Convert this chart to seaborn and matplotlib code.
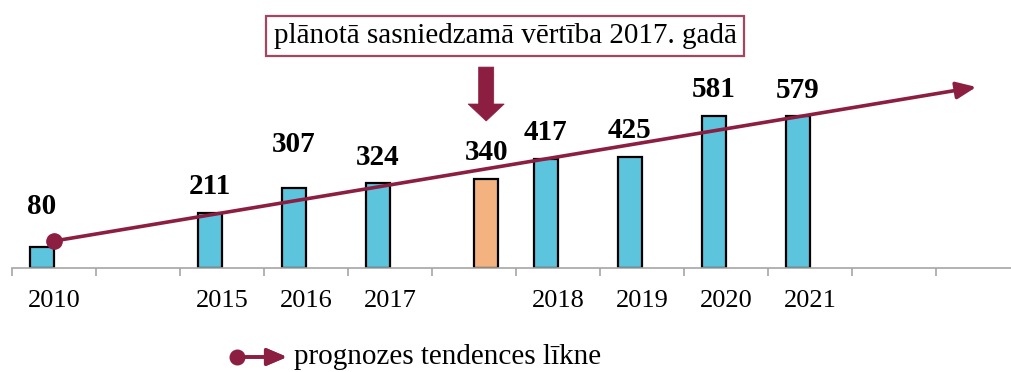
import matplotlib
matplotlib.use("Agg")
import matplotlib.pyplot as plt
from matplotlib.patches import Polygon
from matplotlib.lines import Line2D
import seaborn as sns
import pandas as pd

# --- data -------------------------------------------------------------
slot_keys = ["2010", "gap_a", "2015", "2016", "2017", "2017_plan",
             "2018", "2019", "2020", "2021", "gap_b", "gap_c"]
tick_labels = ["2010", "", "2015", "2016", "2017", "",
               "2018", "2019", "2020", "2021", "", ""]

fact_slots = ["2010", "2015", "2016", "2017", "2018", "2019", "2020", "2021"]
fact_values = [80, 211, 307, 324, 417, 425, 581, 579]

plan_slots = ["2017_plan"]
plan_values = [340]

# trend line: value at the 2010 slot and at the arrow tip
trend_values = [103, 691]

title_text = "plānotā sasniedzamā vērtība 2017. gadā"
legend_text = "prognozes tendences līkne"

# --- style ------------------------------------------------------------
BLUE = "#5DC4DE"
ORANGE = "#F4B281"
MAROON = "#8C1E41"
BOX_EDGE = "#A3465F"
AXIS_GREY = "#A6A6A6"

sns.set_theme(style="white")
plt.rcParams["font.family"] = ["Liberation Serif", "DejaVu Serif"]

W, H = 1012, 372
fig = plt.figure(figsize=(W / 100, H / 100), dpi=100)
ax = fig.add_axes([12 / W, 104 / H, 1008 / W, 268 / H])

df = pd.DataFrame({
    "slot": fact_slots + plan_slots,
    "value": fact_values + plan_values,
    "series": ["fakts"] * len(fact_slots) + ["plāns"] * len(plan_slots),
})

sns.barplot(data=df, x="slot", y="value", hue="series",
            order=slot_keys, hue_order=["fakts", "plāns"],
            palette={"fakts": BLUE, "plāns": ORANGE}, saturation=1,
            width=0.58, dodge=True, edgecolor="black", linewidth=1.6,
            legend=False, ax=ax)

ax.set_xlim(-0.5, len(slot_keys) - 0.5)
ax.set_ylim(0, 1023)
ax.set_xlabel("")
ax.set_ylabel("")
ax.set_yticks([])
for s in ("left", "top", "right"):
    ax.spines[s].set_visible(False)
ax.spines["bottom"].set_color(AXIS_GREY)
ax.spines["bottom"].set_linewidth(1.2)

# category labels centred in slots, tick marks on slot boundaries
ax.set_xticks(range(len(slot_keys)))
ax.set_xticklabels(tick_labels, fontsize=19, color="black")
ax.tick_params(axis="x", which="major", length=0, pad=16)
ax.set_xticks([i - 0.5 for i in range(len(slot_keys))], minor=True)
ax.tick_params(axis="x", which="minor", bottom=True, length=6, width=1.2,
               color=AXIS_GREY, direction="out")

# value labels above bars (a few lifted clear of the trend line)
lift_px = {"2010": 41, "2016": 43}
for bar in ax.patches:
    h = bar.get_height()
    if not h or h != h:
        continue
    cx = bar.get_x() + bar.get_width() / 2
    key = slot_keys[int(round(cx))]
    dy = lift_px.get(key, 26) * 0.72
    ax.annotate(f"{h:.0f}", (cx, h), xytext=(0, dy), textcoords="offset points",
                ha="center", va="center", fontsize=21, fontweight="bold",
                color="black")

ARROW = "-|>,head_length=0.75,head_width=0.32"

# trend line with arrow head
ax.annotate("", xy=(10.98, trend_values[1]), xytext=(0, trend_values[0]),
            arrowprops=dict(arrowstyle=ARROW, color=MAROON, lw=2.6,
                            shrinkA=0, shrinkB=0, mutation_scale=16),
            zorder=5)
ax.plot([0], [trend_values[0]], marker="o", markersize=11, color=MAROON,
        zorder=6, clip_on=False)

# block arrow pointing at the planned-value bar
px = 5 + 0.145
shaft = 0.09
head = 0.215
top_v, neck_v, tip_v = 767, 626, 561
arrow = Polygon([(px - shaft, top_v), (px + shaft, top_v), (px + shaft, neck_v),
                 (px + head, neck_v), (px, tip_v), (px - head, neck_v),
                 (px - shaft, neck_v)],
                closed=True, facecolor=MAROON, edgecolor=MAROON, lw=0.5,
                zorder=4)
ax.add_patch(arrow)

# boxed caption
fig.text(505 / W, 1 - 36 / H, title_text, ha="center", va="center",
         fontsize=21, color="black",
         bbox=dict(boxstyle="square,pad=0.25", facecolor="white",
                   edgecolor=BOX_EDGE, linewidth=1.6))

# legend: marker + arrow + text
ly = 1 - 357 / H
fig.add_artist(Line2D([237 / W], [ly], marker="o", markersize=10.5,
                      color=MAROON, transform=fig.transFigure))
fig.add_artist(plt.annotate("", xy=(287 / W, ly), xytext=(237 / W, ly),
                            xycoords=fig.transFigure, textcoords=fig.transFigure,
                            arrowprops=dict(arrowstyle=ARROW, color=MAROON,
                                            lw=2.6, shrinkA=0, shrinkB=0,
                                            mutation_scale=16)))
fig.text(294 / W, ly, legend_text, ha="left", va="center", fontsize=21,
         color="black")

fig.savefig("out.png", dpi=100)
